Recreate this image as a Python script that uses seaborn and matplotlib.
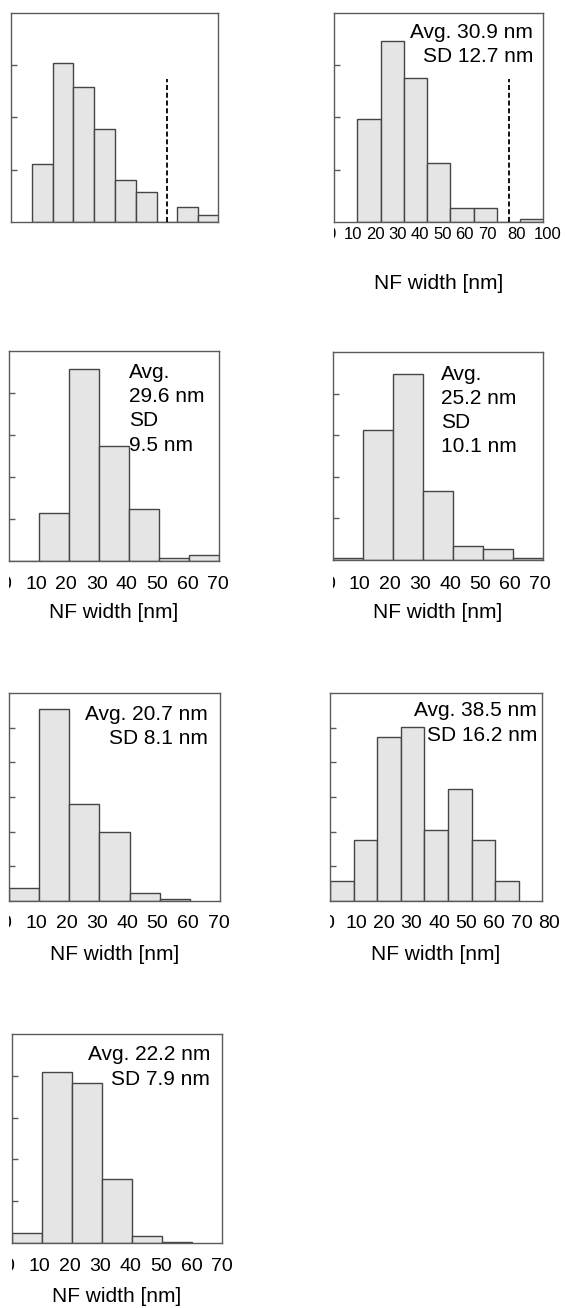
import numpy as np
import pandas as pd
import matplotlib
matplotlib.use("Agg")
import matplotlib.pyplot as plt
import seaborn as sns
from matplotlib.transforms import Bbox, TransformedBbox

sns.set_style("white")
plt.rcParams["font.family"] = ["Liberation Sans", "DejaVu Sans"]
plt.rcParams["text.color"] = "black"

# ---------------- data: bin edges (nm) and frequencies (%) ----------------
edges_a = [10, 20, 30, 40, 50, 60, 70, 80, 90, 100]
freq_a = [11.1, 30.4, 25.9, 17.8, 8.1, 5.8, 0.0, 2.8, 1.4]

edges_b = [10, 20, 30, 40, 50, 60, 70, 80, 90]
freq_b = [19.7, 34.6, 27.5, 11.2, 2.7, 2.7, 0.0, 0.6]

edges_c = [0, 10, 20, 30, 40, 50, 60, 70]
freq_c = [0.0, 11.5, 45.8, 27.5, 12.3, 0.6, 1.4]

edges_d = [0, 10, 20, 30, 40, 50, 60, 70]
freq_d = [0.6, 31.3, 44.6, 16.6, 3.3, 2.6, 0.4]

edges_e = [0, 10, 20, 30, 40, 50, 60]
freq_e = [3.8, 55.3, 28.0, 19.8, 2.2, 0.6]

edges_f = [0, 10, 20, 30, 40, 50, 60, 70, 80]
freq_f = [2.85, 8.75, 23.6, 25.05, 10.2, 16.2, 8.75, 2.85]

edges_g = [0, 10, 20, 30, 40, 50, 60]
freq_g = [2.5, 40.9, 38.3, 15.4, 1.7, 0.2]

# axis-break marker (dashed line) in the first two panels
break_x = 75
break_top = 27.3

labels_70 = ["0", "10", "20", "30", "40", "50", "60", "70"]
labels_80 = ["0", "10", "20", "30", "40", "50", "60", "70", "80"]
labels_b = ["0", "10", "20", "30", "40", "50", "60", "70", "80", "100"]

ann_b = "Avg. 30.9 nm\nSD 12.7 nm"
ann_c = "Avg.\n29.6 nm\nSD\n9.5 nm"
ann_d = "Avg.\n25.2 nm\nSD\n10.1 nm"
ann_e = "Avg. 20.7 nm\nSD 8.1 nm"
ann_f = "Avg. 38.5 nm\nSD 16.2 nm"
ann_g = "Avg. 22.2 nm\nSD 7.9 nm"
xlabel = "NF width [nm]"

# ---------------- layout ----------------
W, H = 566, 1308
fig = plt.figure(figsize=(W / 100, H / 100), dpi=100)

BAR_FILL = "#e5e5e5"
BAR_EDGE = "#454545"
SPINE = "#5a5a5a"


def even(x0, step, n):
    return [x0 + i * step for i in range(n)]


panels = [
    dict(rect=(11, 13, 218, 222), edges=edges_a, freq=freq_a, xlim=(0, 99.5), ylim=(0, 40),
         yticks=[10, 20, 30], xlabels=None, brk=True, ann=None),
    dict(rect=(334, 13, 543, 222), edges=edges_b, freq=freq_b, xlim=(0, 89.7), ylim=(0, 40),
         yticks=[10, 20, 30], xlabels=labels_b,
         lab_px=even(-3, 22.3, 8) + [182.7, 214], tsize=12, tpad=3.9, lpad=37.4,
         brk=True, ann=ann_b, ann_mode="right", ann_off=(-10, -9.5)),
    dict(rect=(9, 351, 219, 561), edges=edges_c, freq=freq_c, xlim=(0, 70), ylim=(0, 50),
         yticks=[10, 20, 30, 40], xlabels=labels_70,
         lab_px=even(-3.3, 30.3, 8), tsize=14, tpad=10.8, lpad=30.2,
         brk=False, ann=ann_c, ann_mode="left", ann_x=40, ann_off=(0, -12)),
    dict(rect=(333, 352, 543, 560), edges=edges_d, freq=freq_d, xlim=(0, 70), ylim=(0, 50),
         yticks=[10, 20, 30, 40], xlabels=labels_70,
         lab_px=even(-3.4, 30.1, 8), tsize=14, tpad=11.5, lpad=31.0,
         brk=False, ann=ann_d, ann_mode="left", ann_x=36, ann_off=(0, -12.5)),
    dict(rect=(9, 693, 220, 901), edges=edges_e, freq=freq_e, xlim=(0, 70), ylim=(0, 60),
         yticks=[10, 20, 30, 40, 50], xlabels=labels_70,
         lab_px=even(-3.4, 30.4, 8), tsize=14, tpad=10, lpad=31.7,
         brk=False, ann=ann_e, ann_mode="right", ann_off=(-12, -11.5)),
    dict(rect=(330, 693, 542, 901), edges=edges_f, freq=freq_f, xlim=(0, 89.8), ylim=(0, 30),
         yticks=[5, 10, 15, 20, 25], xlabels=labels_80,
         lab_px=even(-1, 27.5, 9), tsize=14, tpad=10, lpad=31.7,
         brk=False, ann=ann_f, ann_mode="right", ann_off=(-5, -8.5)),
    dict(rect=(12, 1034, 222, 1243), edges=edges_g, freq=freq_g, xlim=(0, 70), ylim=(0, 50),
         yticks=[10, 20, 30, 40], xlabels=labels_70,
         lab_px=even(-3, 30.4, 8), tsize=14, tpad=11, lpad=31.7,
         brk=False, ann=ann_g, ann_mode="right", ann_off=(-12, -11.5)),
]

for p in panels:
    l, t, r, b = p["rect"]
    ax = fig.add_axes([l / W, (H - b) / H, (r - l) / W, (b - t) / H])
    edges = p["edges"]
    centers = [(edges[i] + edges[i + 1]) / 2 for i in range(len(edges) - 1)]
    df = pd.DataFrame({"width": centers, "freq": p["freq"]})
    sns.histplot(data=df, x="width", weights="freq", bins=edges, ax=ax,
                 color=BAR_FILL, edgecolor=BAR_EDGE, linewidth=1.0, alpha=1.0)
    ax.set_xlim(*p["xlim"])
    ax.set_ylim(*p["ylim"])
    ax.set_ylabel("")
    ax.set_yticks(p["yticks"])
    ax.tick_params(axis="y", direction="in", length=4, width=1, color=SPINE,
                   left=True, labelleft=False)
    ax.set_xticks([])
    ax.tick_params(axis="x", bottom=False, length=0)
    for s in ax.spines.values():
        s.set_color(SPINE)
        s.set_linewidth(1.0)
    ax.set_xlabel("")
    if p["xlabels"] is not None:
        wpx = r - l
        clip = TransformedBbox(Bbox.from_extents(0, -1.0, 1.6, 1.0), ax.transAxes)
        for lab, xp in zip(p["xlabels"], p["lab_px"]):
            txt = ax.annotate(lab, xy=(xp / wpx, 0), xycoords="axes fraction",
                              xytext=(0, -p["tpad"]), textcoords="offset points",
                              ha="center", va="top", fontsize=p["tsize"],
                              color="black", annotation_clip=False)
            txt.set_clip_on(True)
            txt.set_clip_box(clip)
        ax.set_xlabel(xlabel, fontsize=15, labelpad=p["lpad"], color="black")
    if p["brk"]:
        ax.vlines(break_x, 0, break_top, colors="black", linestyles=(0, (2.8, 1.5)),
                  linewidth=1.3, zorder=3)
    if p["ann"] is not None:
        if p["ann_mode"] == "right":
            ax.annotate(p["ann"], xy=(1, 1), xycoords="axes fraction",
                        xytext=p["ann_off"], textcoords="offset pixels",
                        ha="right", va="top", multialignment="right",
                        fontsize=15, linespacing=1.35, color="black")
        else:
            ax.annotate(p["ann"], xy=(p["ann_x"], 1),
                        xycoords=("data", "axes fraction"),
                        xytext=p["ann_off"], textcoords="offset pixels",
                        ha="left", va="top", multialignment="left",
                        fontsize=15, linespacing=1.35, color="black")

fig.savefig("out.png", dpi=100)
